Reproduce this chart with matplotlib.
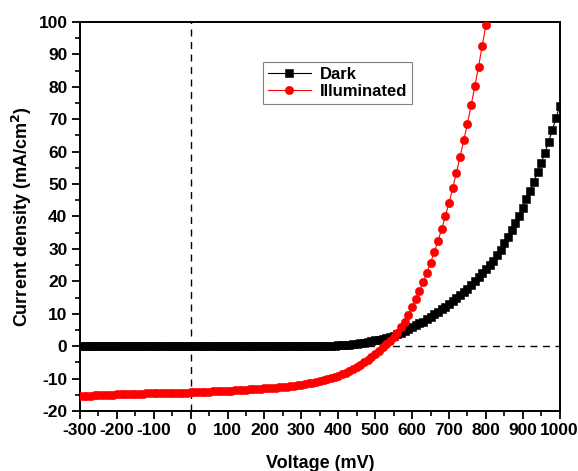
import matplotlib
matplotlib.use("Agg")
import matplotlib.pyplot as plt
from matplotlib.ticker import AutoMinorLocator

plt.rcParams['font.family'] = ['Liberation Sans', 'DejaVu Sans']
plt.rcParams['font.weight'] = 'bold'
plt.rcParams['axes.unicode_minus'] = False
plt.rcParams['mathtext.default'] = 'bf'

# Voltage sweep (mV), 10 mV steps
voltage_dark = list(range(-300, 1010, 10))
voltage_light = list(range(-300, 810, 10))

# Current density (mA/cm^2) in the dark
current_dark = [
    -0.1, -0.1, -0.1, -0.1, -0.1, -0.1, -0.1, -0.1, -0.1, -0.1,
    -0.1, -0.1, -0.1, -0.1, -0.1, -0.1, -0.1, -0.1, -0.1, -0.1,
    -0.1, -0.1, -0.1, -0.1, -0.1, -0.05, -0.05, -0.05, -0.05, -0.05,
    0.0, 0.0, 0.0, 0.0, 0.0, 0.0, 0.0, 0.0, 0.0, 0.0,
    0.0, 0.0, 0.0, 0.0, 0.0, 0.0, 0.0, 0.0, 0.0, 0.0,
    0.0, 0.0, 0.0, 0.0, 0.0, 0.01, 0.01, 0.02, 0.02, 0.03,
    0.03, 0.04, 0.05, 0.06, 0.07, 0.09, 0.11, 0.13, 0.16, 0.2,
    0.25, 0.32, 0.4, 0.5, 0.62, 0.76, 0.92, 1.1, 1.3, 1.55,
    1.8, 2.05, 2.3, 2.6, 2.9, 3.2, 3.6, 4.1, 4.6, 5.2,
    5.8, 6.4, 7.0, 7.6, 8.3, 9.0, 9.8, 10.6, 11.4, 12.2,
    13.0, 13.9, 14.8, 15.7, 16.7, 17.7, 18.8, 20.0, 21.2, 22.5,
    23.8, 25.0, 26.3, 28.0, 29.8, 31.7, 33.6, 35.7, 37.9, 40.2,
    42.7, 45.3, 47.9, 50.7, 53.6, 56.6, 59.7, 63.0, 66.6, 70.3,
    74.1,
]

# Current density (mA/cm^2) under illumination
current_light = [
    -15.4, -15.4, -15.3, -15.3, -15.2, -15.2, -15.1, -15.1, -15.0, -15.0,
    -14.9, -14.9, -14.9, -14.8, -14.8, -14.7, -14.7, -14.7, -14.6, -14.6,
    -14.6, -14.5, -14.5, -14.5, -14.4, -14.4, -14.4, -14.3, -14.3, -14.3,
    -14.2, -14.2, -14.1, -14.1, -14.0, -14.0, -13.9, -13.9, -13.8, -13.8,
    -13.7, -13.7, -13.6, -13.5, -13.5, -13.4, -13.3, -13.3, -13.2, -13.1,
    -13.0, -13.0, -12.9, -12.8, -12.7, -12.6, -12.5, -12.4, -12.3, -12.1,
    -11.9, -11.7, -11.5, -11.3, -11.0, -10.8, -10.5, -10.2, -9.9, -9.5,
    -9.1, -8.7, -8.2, -7.7, -7.1, -6.5, -5.8, -5.0, -4.2, -3.3,
    -2.4, -1.4, -0.4, 0.6, 1.7, 2.9, 4.2, 5.8, 7.5, 9.6,
    12.1, 14.6, 17.1, 19.8, 22.6, 25.7, 29.0, 32.4, 36.0, 40.0,
    44.2, 48.7, 53.4, 58.4, 63.6, 68.5, 74.3, 80.2, 86.2, 92.6,
    99.0,
]

x_ticks = list(range(-300, 1001, 100))
y_ticks = list(range(-20, 101, 10))

fig = plt.figure(figsize=(5.78, 4.71), dpi=100)
ax = fig.add_axes([0.1384, 0.1274, 0.8299, 0.8259])

ax.axvline(0, color='black', lw=1.0, ls=(0, (5, 4)), zorder=1)
ax.axhline(0, color='black', lw=1.0, ls=(0, (5, 4)), zorder=1)

ax.plot(voltage_dark, current_dark, color='black', lw=0.8, marker='s',
        markersize=5.6, markeredgewidth=0.4, label='Dark', zorder=3)
ax.plot(voltage_light, current_light, color='red', lw=0.8, marker='o',
        markersize=6.0, markeredgewidth=0.4, label='Illuminated', zorder=4)

ax.set_xlim(-300, 1000)
ax.set_ylim(-20, 100)
ax.set_xticks(x_ticks)
ax.set_yticks(y_ticks)
ax.xaxis.set_minor_locator(AutoMinorLocator(2))
ax.yaxis.set_minor_locator(AutoMinorLocator(2))
ax.tick_params(which='major', direction='out', length=6, width=1.3,
               labelsize=12.5, pad=3)
ax.tick_params(which='minor', direction='out', length=3.5, width=1.2)
for lab in ax.get_xticklabels() + ax.get_yticklabels():
    lab.set_fontweight('bold')

for s in ax.spines.values():
    s.set_linewidth(1.4)

ax.set_xlabel('Voltage (mV)', fontsize=13, fontweight='bold', labelpad=12)
ax.set_ylabel('Current density (mA/cm$^2$)', fontsize=13,
              fontweight='bold', labelpad=3)

leg = ax.legend(loc='upper left', bbox_to_anchor=(0.381, 0.898),
                borderaxespad=0, fancybox=False, framealpha=1,
                edgecolor='#808080', handlelength=2.6,
                prop={'size': 12, 'weight': 'bold'},
                borderpad=0.3, labelspacing=0.15, handletextpad=0.5)
leg.get_frame().set_linewidth(0.8)

fig.savefig('out.png', dpi=100)
